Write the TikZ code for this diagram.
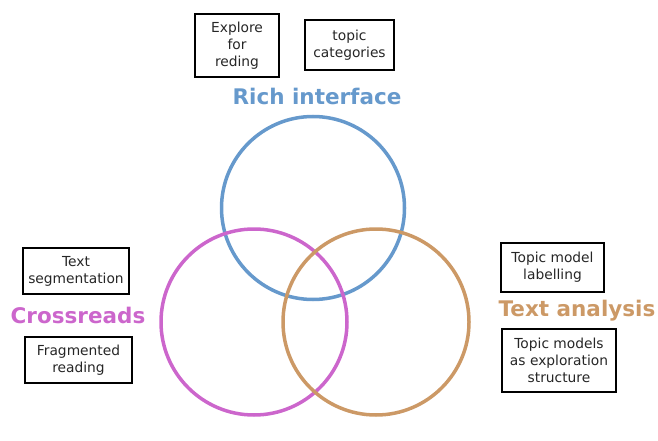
\documentclass[tikz,border=0pt]{standalone}
\usepackage{fontspec}
\setmainfont{DejaVu Sans}
\usetikzlibrary{positioning,shapes}
\definecolor{riblue}{HTML}{6699CC}
\definecolor{crpink}{HTML}{CC66CC}
\definecolor{tatan}{HTML}{CC9966}

\begin{document}
\begin{tikzpicture}[x=1pt,y=-1pt,
  box/.style={rectangle,draw,line width=2.3pt,align=center,inner sep=0pt,
    text=black!85,font=\fontsize{13.8}{17}\selectfont},
  title/.style={inner sep=0pt,font=\fontsize{21.5}{26}\selectfont\bfseries},
  ring/.style={circle,draw,line width=3.5pt,minimum size=#1}]
\useasboundingbox (0,0) rectangle (658,441);

% the three circles
\node[ring=183pt,draw=riblue] (ri) at (313,208) {};
\node[ring=186pt,draw=crpink] (cr) at (254,322) {};
\node[ring=186pt,draw=tatan] (ta) at (376,322) {};

% headings
\node[title,text=riblue] (rit) at (317,96) {Rich interface};
\node[title,text=crpink] (crt) at (78,315) {Crossreads};
\node[title,text=tatan] (tat) at (577,311) {Text analysis};

% boxes
\node[box,minimum width=84pt,minimum height=63pt] (ri1) at (237,45.5) {Explore\\for\\reding};
\node[box,minimum width=89pt,minimum height=50pt] (ri2) at (349.5,45) {topic\\categories};

\node[box,minimum width=106pt,minimum height=46pt] (cr1) at (76,271) {Text\\segmentation};
\node[box,minimum width=107pt,minimum height=46pt] (cr2) at (78.5,360) {Fragmented\\reading};

\node[box,minimum width=103pt,minimum height=49pt] (ta1) at (552.5,267.5) {Topic model\\labelling};
\node[box,minimum width=114pt,minimum height=63pt] (ta2) at (559,360.5) {Topic models\\as exploration\\structure};
\end{tikzpicture}
\end{document}
